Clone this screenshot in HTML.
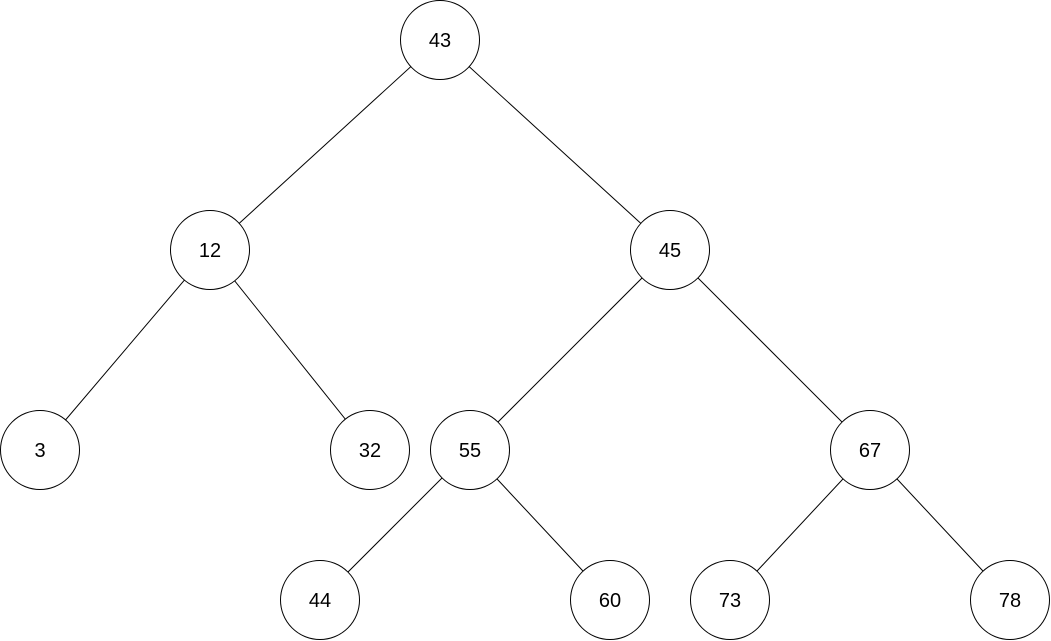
<!DOCTYPE html>
<html><head><meta charset="utf-8"><style>
html,body{margin:0;padding:0;background:#fff;}
svg{display:block;}
text{font-family:"Liberation Sans",Arial,sans-serif;font-size:20px;fill:#000;}
</style></head><body>
<svg width="1051" height="641" viewBox="0 0 1051 641" xmlns="http://www.w3.org/2000/svg">
<g stroke="#000" stroke-width="1">
<line x1="440" y1="40" x2="210" y2="250"/>
<line x1="440" y1="40" x2="670" y2="250"/>
<line x1="210" y1="250" x2="40" y2="450"/>
<line x1="210" y1="250" x2="370" y2="450"/>
<line x1="670" y1="250" x2="470" y2="450"/>
<line x1="670" y1="250" x2="870" y2="450"/>
<line x1="470" y1="450" x2="320" y2="600"/>
<line x1="470" y1="450" x2="610" y2="600"/>
<line x1="870" y1="450" x2="730" y2="600"/>
<line x1="870" y1="450" x2="1010" y2="600"/>
</g>
<g fill="#fff" stroke="#000" stroke-width="1">
<circle cx="440" cy="40" r="39.5"/>
<circle cx="210" cy="250" r="39.5"/>
<circle cx="670" cy="250" r="39.5"/>
<circle cx="40" cy="450" r="39.5"/>
<circle cx="370" cy="450" r="39.5"/>
<circle cx="470" cy="450" r="39.5"/>
<circle cx="870" cy="450" r="39.5"/>
<circle cx="320" cy="600" r="39.5"/>
<circle cx="610" cy="600" r="39.5"/>
<circle cx="730" cy="600" r="39.5"/>
<circle cx="1010" cy="600" r="39.5"/>
</g>
<g text-anchor="middle">
<text x="440" y="47">43</text>
<text x="210" y="257">12</text>
<text x="670" y="257">45</text>
<text x="40" y="457">3</text>
<text x="370" y="457">32</text>
<text x="470" y="457">55</text>
<text x="870" y="457">67</text>
<text x="320" y="607">44</text>
<text x="610" y="607">60</text>
<text x="730" y="607">73</text>
<text x="1010" y="607">78</text>
</g>
</svg>
</body></html>
